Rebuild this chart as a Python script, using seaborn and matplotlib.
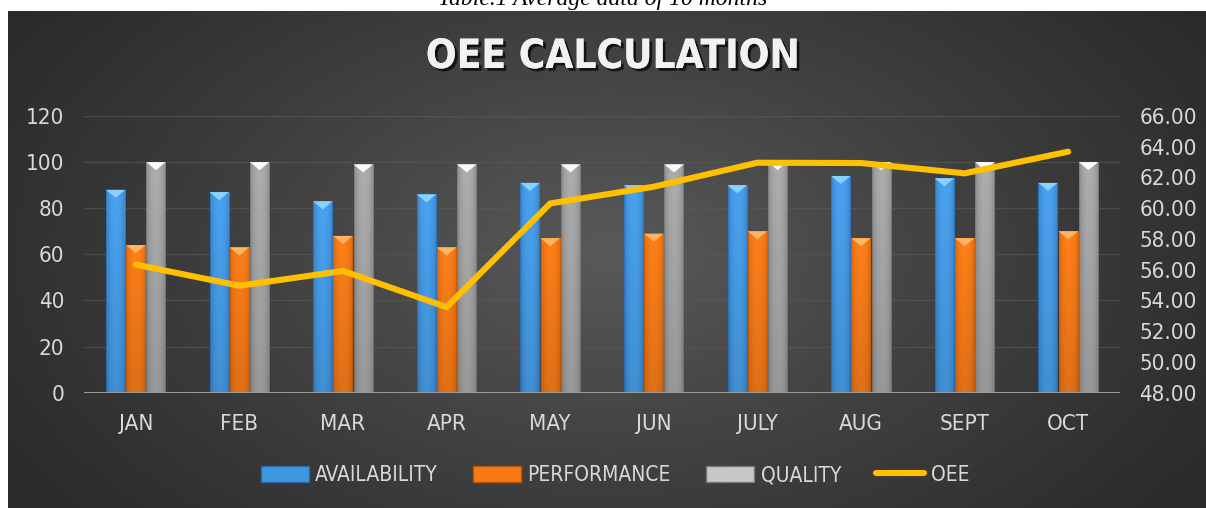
import numpy as np
import pandas as pd
import matplotlib
matplotlib.use("Agg")
import matplotlib.pyplot as plt
import matplotlib.patheffects as pe
from matplotlib.patches import Patch, Polygon
from matplotlib.lines import Line2D
import seaborn as sns

months = ["JAN", "FEB", "MAR", "APR", "MAY", "JUN", "JULY", "AUG", "SEPT", "OCT"]
availability = [88, 87, 83, 86, 91, 90, 90, 94, 93, 91]
performance = [64, 63, 68, 63, 67, 69, 70, 67, 67, 70]
quality = [100, 100, 99, 99, 99, 99, 100, 100, 100, 100]
oee = [56.33, 54.96, 55.92, 53.57, 60.31, 61.40, 62.96, 62.94, 62.27, 63.68]
series_names = ["AVAILABILITY", "PERFORMANCE", "QUALITY"]
left_ticks = [0, 20, 40, 60, 80, 100, 120]
right_ticks = [48, 50, 52, 54, 56, 58, 60, 62, 64, 66]

sns.set_theme(style="dark")
FONT = ["DejaVu Sans"]
plt.rcParams["font.family"] = FONT
plt.rcParams["font.stretch"] = "condensed"

W, H = 1206, 508
fig = plt.figure(figsize=(W / 100, H / 100), dpi=100)
fig.patch.set_facecolor("white")

# caption (cut off at top, as in the reference)
fig.text(0.5, 1 - 5 / H, "Table.1 Average data of 10 months", ha="center", va="baseline",
         fontsize=17, family=["Liberation Serif", "DejaVu Serif"], style="italic",
         stretch="normal", color="black")

# dark background panel with radial gradient
bg = fig.add_axes([8 / W, 0, 1 - 8 / W, (H - 11) / H], zorder=-10)
bg.set_axis_off()
yy, xx = np.mgrid[0:497, 0:1198]
r = np.sqrt(((xx - 600) / 720.0) ** 2 + ((yy - 240) / 430.0) ** 2)
t = np.clip(1 - r, 0, 1) ** 1.1
c_edge, c_center = 0.165, 0.35
val = c_edge + (c_center - c_edge) * t
img = np.dstack([val, val, val])
bg.imshow(img, aspect="auto", extent=[0, 1, 0, 1], origin="upper")
bg.set_xlim(0, 1); bg.set_ylim(0, 1)

ax = fig.add_axes([84 / W, 1 - 392.7 / H, (1120 - 84) / W, (392.7 - 116) / H])
ax.set_facecolor((0, 0, 0, 0))

df = pd.DataFrame({
    "month": months * 3,
    "value": availability + performance + quality,
    "series": sum([[s] * len(months) for s in series_names], []),
})
colors = ["#3f97e0", "#f97a14", "#a8a8a8"]
sns.barplot(data=df, x="month", y="value", hue="series", palette=colors, width=0.585,
            gap=0.04, ax=ax, legend=False, saturation=1, edgecolor="none", linewidth=0)

ax.set_ylim(0, 120)
ax.set_xlim(-0.5, len(months) - 0.5)
ax.set_yticks(left_ticks)
ax.set_xlabel(""); ax.set_ylabel("")
for s in ax.spines.values():
    s.set_visible(False)
ax.grid(axis="y", color="#5a5a5a", linewidth=1.0, alpha=0.6)
ax.grid(axis="x", visible=False)
ax.axhline(0, color="#9a9a9a", linewidth=2.2, zorder=5)
ax.tick_params(axis="both", length=0, colors="#d9d9d9", labelsize=16)
ax.tick_params(axis="y", pad=14)
ax.tick_params(axis="x", pad=15)

# shading for bars
light = {"#3f97e0": "#8fd4ff", "#f97a14": "#ffb868", "#a8a8a8": "#ffffff"}
dark = {"#3f97e0": np.array([0.17, 0.42, 0.70]), "#f97a14": np.array([0.78, 0.36, 0.03]),
        "#a8a8a8": np.array([0.45, 0.45, 0.45])}
base = {"#3f97e0": np.array([0.29, 0.64, 0.94]), "#f97a14": np.array([1.0, 0.50, 0.10]),
        "#a8a8a8": np.array([0.68, 0.68, 0.68])}
px_per_unit = (392.7 - 116) / 120.0
bars = list(ax.patches)
for i, p in enumerate(bars):
    key = colors[i // len(months)]
    x0, w, h = p.get_x(), p.get_width(), p.get_height()
    u = np.linspace(0, 1, 40)
    prof = np.clip(np.sin(np.pi * u) ** 0.35, 0, 1)
    v = np.linspace(0, 1, 60)[:, None]
    c = dark[key][None, None, :] + (base[key] - dark[key])[None, None, :] * prof[None, :, None]
    c = np.clip(c * (0.88 + 0.12 * v[:, :, None]), 0, 1)
    im = ax.imshow(c, extent=[x0, x0 + w, 0, h], origin="lower", aspect="auto", zorder=2)
    im.set_clip_path(p)
    tri_h = 8 / px_per_unit
    ax.add_patch(Polygon([[x0, h], [x0 + w, h], [x0 + w / 2, h - tri_h]], closed=True,
                         facecolor=light[key], edgecolor="none", zorder=3, alpha=0.95))
ax.set_xlim(-0.5, len(months) - 0.5)
ax.set_ylim(0, 120)
ax.set_aspect("auto")

ax2 = ax.twinx()
ax2.set_facecolor((0, 0, 0, 0))
sns.lineplot(x=months, y=oee, ax=ax2, color="#ffc000", linewidth=4.4, sort=False,
             solid_capstyle="round", solid_joinstyle="miter", zorder=6)
ax2.set_ylim(48, 66)
ax2.set_yticks(right_ticks)
ax2.set_yticklabels([f"{t:.2f}" for t in right_ticks])
ax2.grid(False)
for s in ax2.spines.values():
    s.set_visible(False)
ax2.tick_params(axis="y", length=0, colors="#d9d9d9", labelsize=16, pad=14)
ax2.set_xlim(-0.5, len(months) - 0.5)

# title
fig.text(0.508, 1 - 57 / H, "OEE CALCULATION", ha="center", va="center", fontsize=29,
         fontweight="bold", color="#f2f2f2",
         path_effects=[pe.withSimplePatchShadow(offset=(2, -2), shadow_rgbFace="black", alpha=0.7),
                       pe.Normal()])

handles = [Patch(facecolor=colors[0], edgecolor="#2a6aa8"),
           Patch(facecolor=colors[1], edgecolor="#b85708"),
           Patch(facecolor="#c8c8c8", edgecolor="#777777"),
           Line2D([0], [0], color="#ffc000", linewidth=4.4, solid_capstyle="round")]
labels = series_names + ["OEE"]
leg = fig.legend(handles, labels, loc="center", bbox_to_anchor=(0.51, 1 - 475 / H), ncol=4,
                 frameon=False, fontsize=15, handlelength=2.3, handleheight=0.8,
                 handletextpad=0.3, columnspacing=1.7)
for tx in leg.get_texts():
    tx.set_color("#d9d9d9")

fig.savefig("out.png", dpi=100, facecolor=fig.get_facecolor())
